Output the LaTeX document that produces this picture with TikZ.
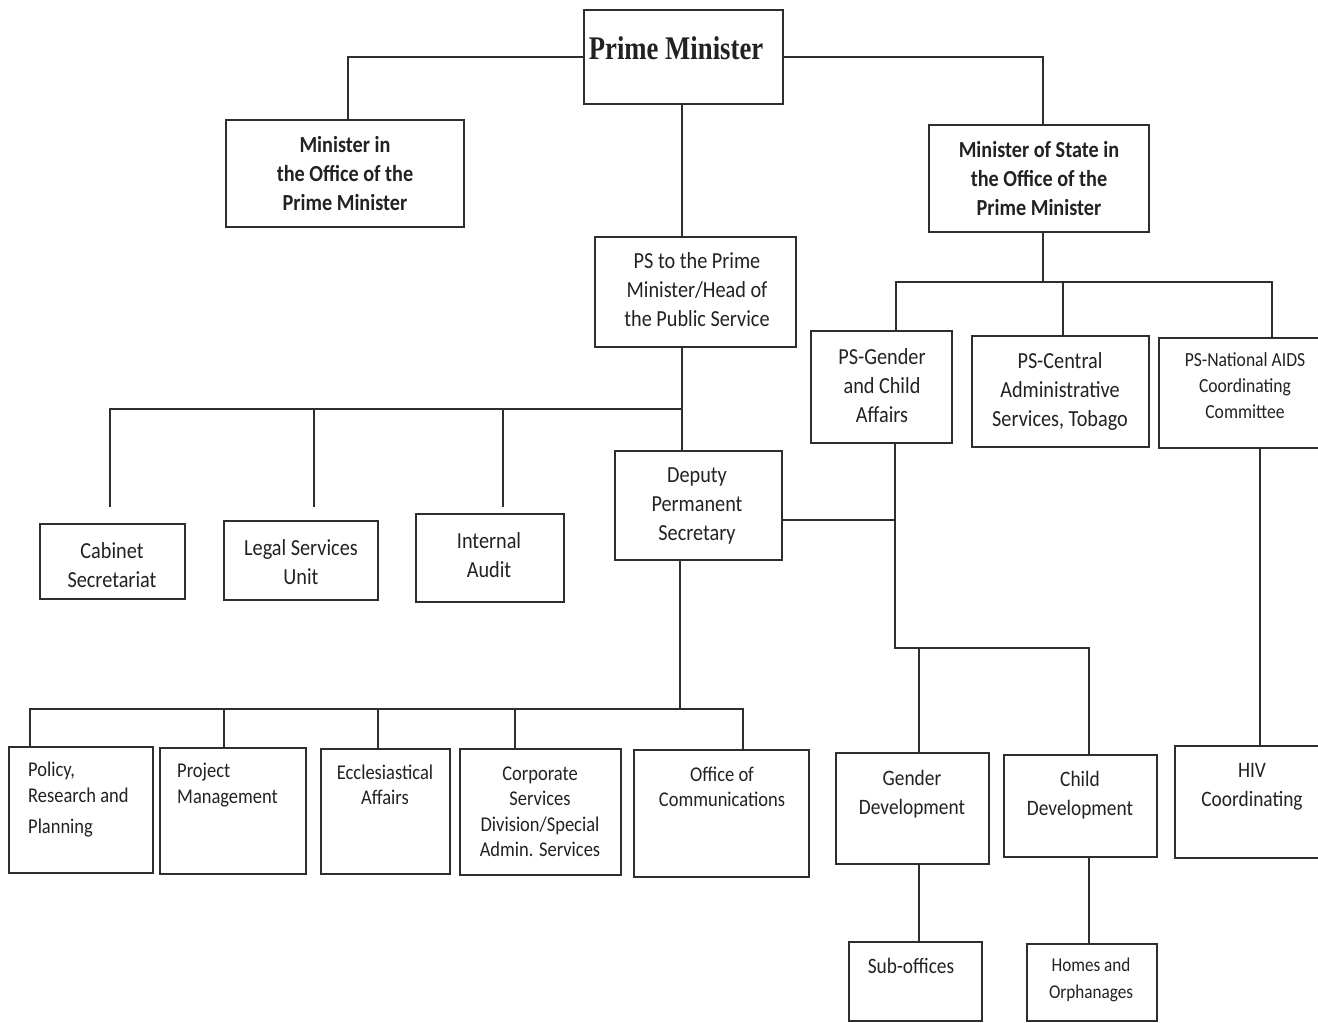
\documentclass[tikz,border=0pt]{standalone}
\usepackage{fontspec}
\setmainfont{Carlito}[FakeStretch=0.88]
\newfontfamily\pmfont{Liberation Serif}[FakeStretch=0.81]
\definecolor{linec}{HTML}{2E2E2E}
\definecolor{txtc}{HTML}{222222}
\newcommand\mkbox[5]{\node[bx, minimum width={#4-#2}, minimum height={#5-#3}] (#1) at ({(#2+#4)/2},{(#3+#5)/2}) {};}
\tikzset{
  bx/.style={draw=linec, line width=2.4pt, inner sep=0pt, fill=white},
  conn/.style={draw=linec, line width=2.2pt},
  tl/.style={font=\fontsize{23}{29}\selectfont, text=txtc, align=center, inner sep=0pt},
  tb/.style={font=\fontsize{23}{29}\selectfont\bfseries, text=txtc, align=center, inner sep=0pt},
  ts/.style={font=\fontsize{21}{25.5}\selectfont, text=txtc, align=center, inner sep=0pt},
  tm/.style={font=\fontsize{22}{29}\selectfont, text=txtc, align=center, inner sep=0pt},
  tx/.style={font=\fontsize{19.5}{26.5}\selectfont, text=txtc, align=center, inner sep=0pt},
}
\begin{document}
\begin{tikzpicture}[x=1pt, y=-1pt]
\useasboundingbox (0,0) rectangle (1318,1023);
\fill[white] (0,0) rectangle (1318,1023);
\clip (0,0) rectangle (1318,1023);
% ---- boxes ----
\mkbox{pm}{584}{10}{783}{104}
\mkbox{min}{226}{120}{464}{227}
\mkbox{mos}{929}{125}{1149}{232}
\mkbox{ps}{595}{237}{796}{347}
\mkbox{psg}{811}{331}{952}{443}
\mkbox{psc}{972}{336}{1149}{447}
\mkbox{psn}{1159}{338}{1326}{448}
\mkbox{cab}{40}{524}{185}{599}
\mkbox{leg}{224}{521}{378}{600}
\mkbox{ia}{416}{514}{564}{602}
\mkbox{dps}{615}{451}{782}{560}
\mkbox{pol}{9}{747}{153}{873}
\mkbox{prj}{160}{748}{306}{874}
\mkbox{ecc}{321}{749}{450}{874}
\mkbox{cor}{460}{749}{621}{875}
\mkbox{com}{634}{750}{809}{877}
\mkbox{gd}{836}{753}{989}{864}
\mkbox{cd}{1004}{755}{1157}{857}
\mkbox{hiv}{1175}{746}{1326}{858}
\mkbox{so}{849}{942}{982}{1021}
\mkbox{ho}{1027}{944}{1157}{1021}
% ---- texts ----
\node[font=\pmfont\fontsize{33}{38}\selectfont\bfseries, text=txtc, inner sep=0pt] (pmt) at (676,48) {Prime Minister};
\node[tb] (mint) at (345,174) {Minister in\\the Office of the\\Prime Minister};
\node[tb] (most) at (1039,179) {Minister of State in\\the Office of the\\Prime Minister};
\node[tl] (pst) at (697,290) {PS to the Prime\\Minister/Head of\\the Public Service};
\node[tl] (psgt) at (882,386) {PS-Gender\\and Child\\Affairs};
\node[tl] (psct) at (1060,391) {PS-Central\\Administrative\\Services, Tobago};
\node[font=\fontsize{20}{26}\selectfont, text=txtc, align=center, inner sep=0pt] (psnt) at (1245,386) {PS-National AIDS\\Coordinating\\Committee};
\node[tl] (cabt) at (112,565) {Cabinet\\Secretariat};
\node[tl] (legt) at (301,562) {Legal Services\\Unit};
\node[tl] (iat) at (489,555) {Internal\\Audit};
\node[tl] (dpst) at (697,506) {Deputy\\Permanent\\Secretary};
\node[ts, align=left, anchor=west] (polt) at (28,800) {Policy,\\Research and\\[6pt]Planning};
\node[ts, align=left, anchor=west] (prjt) at (177,785) {Project\\Management};
\node[ts] (ecct) at (385,785) {Ecclesiastical\\Affairs};
\node[ts] (cort) at (540,812) {Corporate\\Services\\Division/Special\\Admin. Services};
\node[ts] (comt) at (722,787) {Office of\\Communications};
\node[tm] (gdt) at (912,794) {Gender\\Development};
\node[tm] (cdt) at (1080,795) {Child\\Development};
\node[tm] (hivt) at (1252,787) {HIV\\Coordinating};
\node[tm] (sot) at (911,966) {Sub-offices};
\node[tx] (hot) at (1091,980) {Homes and\\Orphanages};
% ---- junction coordinates ----
\coordinate (sp) at (682,409);
\coordinate (cabe) at (110,507);
\coordinate (lege) at (314,507);
\coordinate (iae) at (503,507);
\coordinate (mosx) at (1043,57);
\coordinate (minx) at (348,57);
\coordinate (barL) at (896,282);
\coordinate (barM) at (1063,282);
\coordinate (barR) at (1272,282);
\coordinate (gj) at (895,520);
\coordinate (gb) at (895,648);
\coordinate (gdx) at (919,648);
\coordinate (cdx) at (1089,648);
\coordinate (hivx) at (1260,600);
\coordinate (b3j) at (680,709);
\coordinate (b3a) at (30,709);
\coordinate (b3b) at (224,709);
\coordinate (b3c) at (378,709);
\coordinate (b3d) at (515,709);
\coordinate (b3e) at (743,709);
% ---- connectors ----
\draw[conn] (pm.west) -- (minx) -- (minx |- min.north);
\draw[conn] (pm.east) -- (mosx) -- (mosx |- mos.north);
\draw[conn] (sp |- pm.south) -- (sp |- ps.north);
\draw[conn] (sp |- ps.south) -- (sp |- dps.north);
\draw[conn] (sp) -| (cabe);
\draw[conn] (lege |- sp) -- (lege);
\draw[conn] (iae |- sp) -- (iae);
\draw[conn] (mosx |- mos.south) -- (mosx |- barM);
\draw[conn] (barL |- psg.north) -- (barL) -- (barR) -- (barR |- psn.north);
\draw[conn] (barM) -- (barM |- psc.north);
\draw[conn] (gj |- psg.south) -- (gb) -- (cdx) -- (cdx |- cd.north);
\draw[conn] (dps.east |- gj) -- (gj);
\draw[conn] (gdx) -- (gdx |- gd.north);
\draw[conn] (gdx |- gd.south) -- (gdx |- so.north);
\draw[conn] (cdx |- cd.south) -- (cdx |- ho.north);
\draw[conn] (hivx |- psn.south) -- (hivx |- hiv.north);
\draw[conn] (b3j |- dps.south) -- (b3j);
\draw[conn] (b3a |- pol.north) -- (b3a) -- (b3e) -- (b3e |- com.north);
\draw[conn] (b3b) -- (b3b |- prj.north);
\draw[conn] (b3c) -- (b3c |- ecc.north);
\draw[conn] (b3d) -- (b3d |- cor.north);
\end{tikzpicture}
\end{document}
